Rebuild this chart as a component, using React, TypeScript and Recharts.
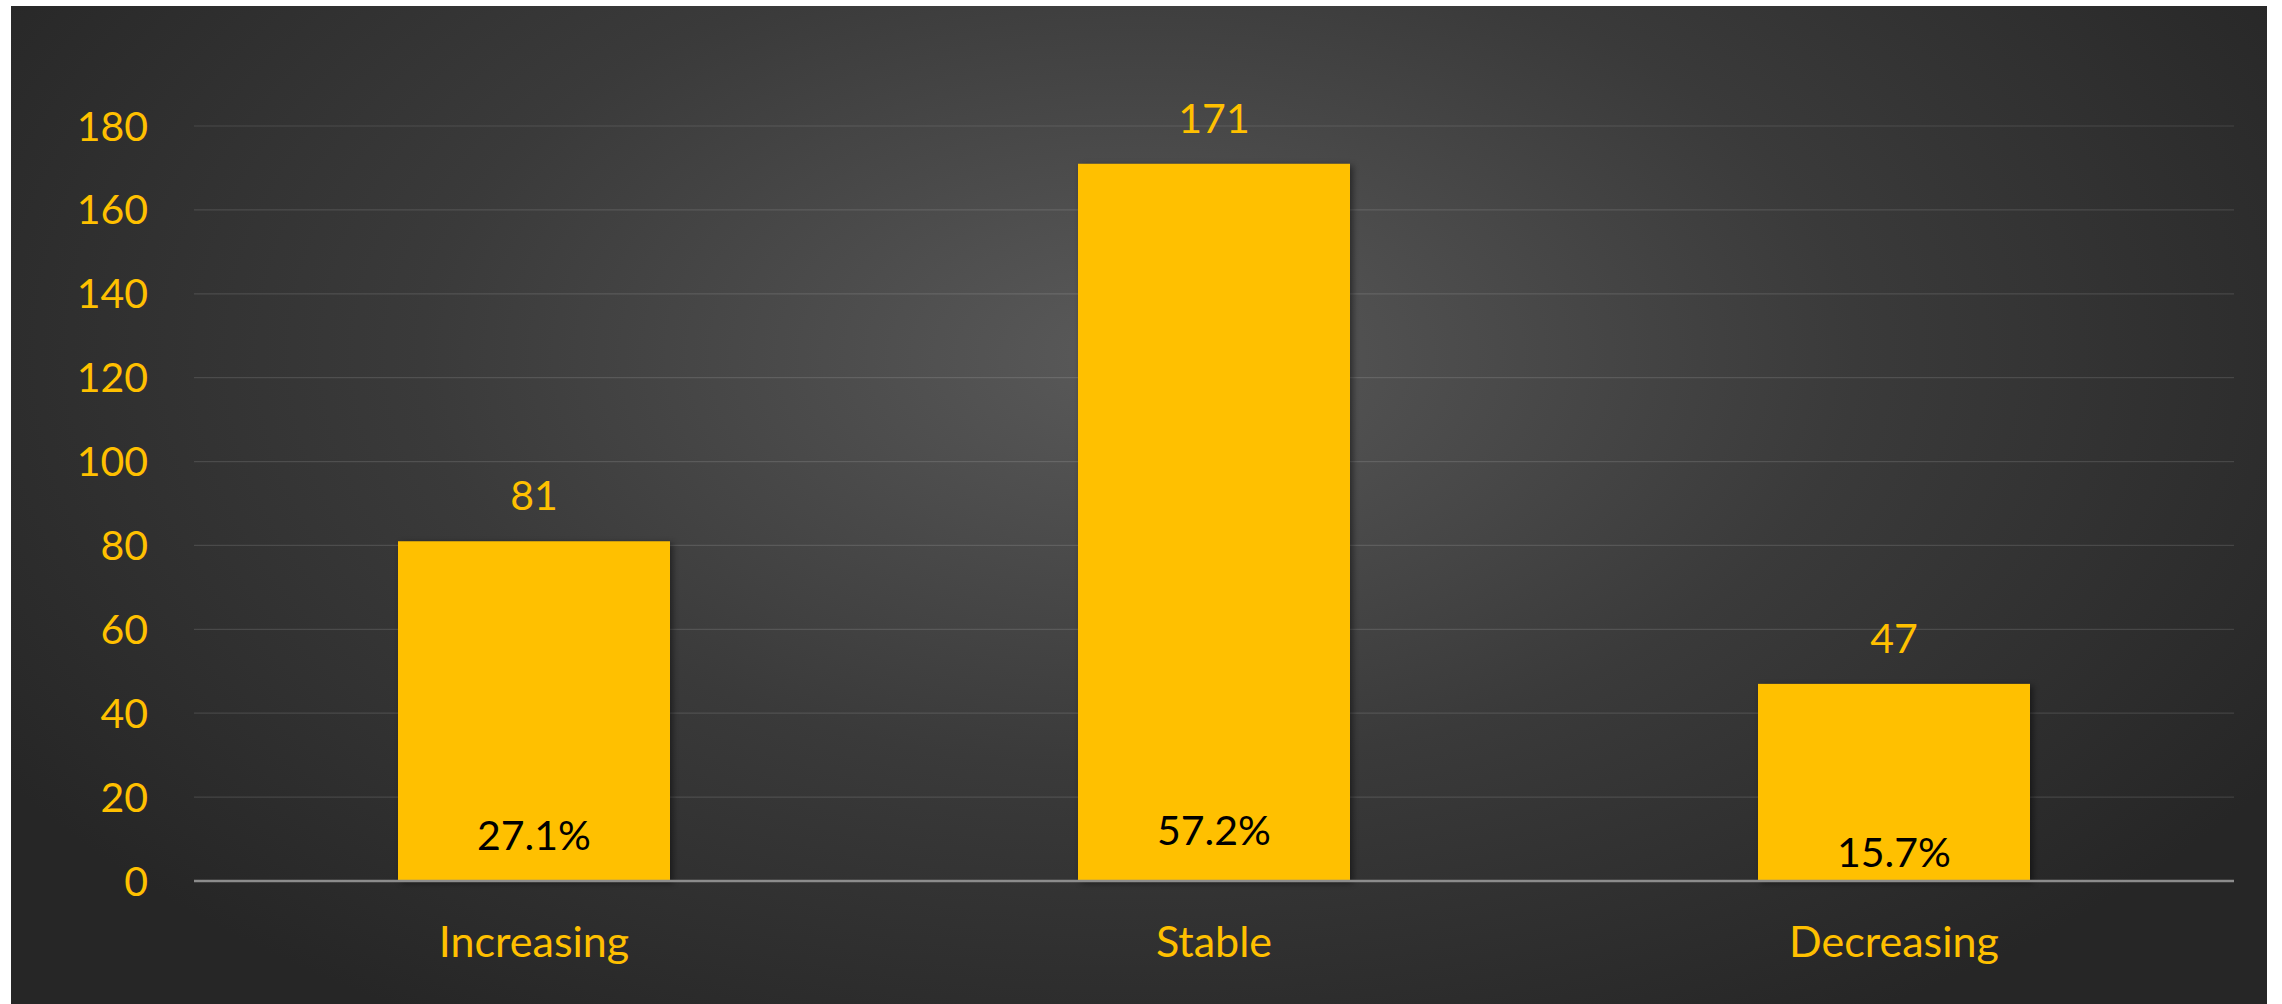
import React from "react";
import { BarChart, Bar, XAxis, YAxis, CartesianGrid, LabelList } from "recharts";

const categories = ["Increasing", "Stable", "Decreasing"];
const counts = [81, 171, 47];
const percents = ["27.1%", "57.2%", "15.7%"];
const yTicks = [0, 20, 40, 60, 80, 100, 120, 140, 160, 180];

const data = categories.map((c, i) => ({ name: c, count: counts[i], pct: percents[i] }));

const GOLD = "#FFC000";
const FONT = "Lato, 'Open Sans', sans-serif";
const pctOffsets = [31, 36, 14];

const BarShape = (props: any) => {
  const { x, y, width, height } = props;
  return (
    <rect
      x={x}
      y={y}
      width={width}
      height={height}
      fill={GOLD}
      style={{ filter: "drop-shadow(3px 2px 3px rgba(0,0,0,0.45))" }}
    />
  );
};

const ValueLabel = (props: any) => {
  const { x, y, width, value } = props;
  return (
    <text x={x + width / 2} y={y - 31} textAnchor="middle" fill={GOLD} fontSize={41} fontFamily={FONT}>
      {value}
    </text>
  );
};

const PctLabel = (props: any) => {
  const { x, y, width, height, value, index } = props;
  return (
    <text
      x={x + width / 2}
      y={y + height - pctOffsets[index]}
      textAnchor="middle"
      fill="#000000"
      fontSize={41}
      fontFamily={FONT}
    >
      {value}
    </text>
  );
};

export default function App() {
  return (
    <div style={{ position: "absolute", left: 0, top: 0, width: 2282, height: 1004, background: "#ffffff" }}>
      <div
        style={{
          position: "absolute",
          left: 11,
          top: 6,
          width: 2256,
          height: 998,
          background: "radial-gradient(ellipse farthest-corner at 50% 35%, #5a5a5a 0%, #3a3a3a 45%, #262626 85%)",
        }}
      >
        <BarChart
          width={2256}
          height={998}
          data={data}
          margin={{ top: 120, right: 33, bottom: 1, left: 0 }}
          barCategoryGap="30%"
        >
          <CartesianGrid vertical={false} stroke="rgba(255,255,255,0.12)" strokeWidth={1.2} />
          <XAxis
            dataKey="name"
            height={122}
            tickSize={0}
            tickMargin={45}
            axisLine={{ stroke: "#8c8c8c", strokeWidth: 2.5 }}
            tickLine={false}
            tick={{ fill: GOLD, fontSize: 43, fontFamily: FONT }}
          />
          <YAxis
            width={183}
            domain={[0, 180]}
            ticks={yTicks}
            interval={0}
            tickSize={0}
            tickMargin={46}
            axisLine={false}
            tickLine={false}
            tick={{ fill: GOLD, fontSize: 41, fontFamily: FONT }}
          />
          <Bar dataKey="count" fill={GOLD} isAnimationActive={false} shape={BarShape}>
            <LabelList dataKey="count" content={ValueLabel} />
            <LabelList dataKey="pct" content={PctLabel} />
          </Bar>
        </BarChart>
      </div>
    </div>
  );
}
